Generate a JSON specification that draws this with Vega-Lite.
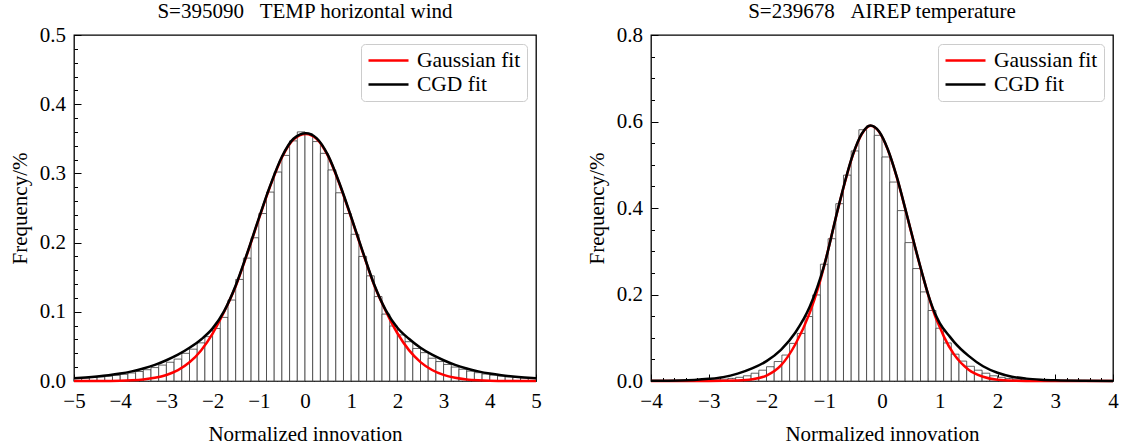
{
"$schema": "https://vega.github.io/schema/vega-lite/v6.json",
"background": "white",
"padding": {"left": 8, "top": 0, "right": 0, "bottom": 0},
"spacing": 43,
"datasets": {
"histA": [{"x0":-5,"x1":-4.8333,"f":0.0037},{"x0":-4.8333,"x1":-4.6667,"f":0.0043},{"x0":-4.6667,"x1":-4.5,"f":0.005},{"x0":-4.5,"x1":-4.3333,"f":0.0059},{"x0":-4.3333,"x1":-4.1667,"f":0.007},{"x0":-4.1667,"x1":-4,"f":0.0082},{"x0":-4,"x1":-3.8333,"f":0.0097},{"x0":-3.8333,"x1":-3.6667,"f":0.0116},{"x0":-3.6667,"x1":-3.5,"f":0.0137},{"x0":-3.5,"x1":-3.3333,"f":0.0163},{"x0":-3.3333,"x1":-3.1667,"f":0.0194},{"x0":-3.1667,"x1":-3,"f":0.023},{"x0":-3,"x1":-2.8333,"f":0.0271},{"x0":-2.8333,"x1":-2.6667,"f":0.0317},{"x0":-2.6667,"x1":-2.5,"f":0.04},{"x0":-2.5,"x1":-2.3333,"f":0.046},{"x0":-2.3333,"x1":-2.1667,"f":0.0551},{"x0":-2.1667,"x1":-2,"f":0.0641},{"x0":-2,"x1":-1.8333,"f":0.0759},{"x0":-1.8333,"x1":-1.6667,"f":0.0919},{"x0":-1.6667,"x1":-1.5,"f":0.117},{"x0":-1.5,"x1":-1.3333,"f":0.1468},{"x0":-1.3333,"x1":-1.1667,"f":0.1776},{"x0":-1.1667,"x1":-1,"f":0.207},{"x0":-1,"x1":-0.8333,"f":0.242},{"x0":-0.8333,"x1":-0.6667,"f":0.273},{"x0":-0.6667,"x1":-0.5,"f":0.302},{"x0":-0.5,"x1":-0.3333,"f":0.326},{"x0":-0.3333,"x1":-0.1667,"f":0.347},{"x0":-0.1667,"x1":0,"f":0.36},{"x0":0,"x1":0.1667,"f":0.357},{"x0":0.1667,"x1":0.3333,"f":0.346},{"x0":0.3333,"x1":0.5,"f":0.329},{"x0":0.5,"x1":0.6667,"f":0.305},{"x0":0.6667,"x1":0.8333,"f":0.272},{"x0":0.8333,"x1":1,"f":0.242},{"x0":1,"x1":1.1667,"f":0.212},{"x0":1.1667,"x1":1.3333,"f":0.18},{"x0":1.3333,"x1":1.5,"f":0.152},{"x0":1.5,"x1":1.6667,"f":0.122},{"x0":1.6667,"x1":1.8333,"f":0.0967},{"x0":1.8333,"x1":2,"f":0.0795},{"x0":2,"x1":2.1667,"f":0.0666},{"x0":2.1667,"x1":2.3333,"f":0.0568},{"x0":2.3333,"x1":2.5,"f":0.047},{"x0":2.5,"x1":2.6667,"f":0.041},{"x0":2.6667,"x1":2.8333,"f":0.0329},{"x0":2.8333,"x1":3,"f":0.0281},{"x0":3,"x1":3.1667,"f":0.0239},{"x0":3.1667,"x1":3.3333,"f":0.0201},{"x0":3.3333,"x1":3.5,"f":0.017},{"x0":3.5,"x1":3.6667,"f":0.0143},{"x0":3.6667,"x1":3.8333,"f":0.012},{"x0":3.8333,"x1":4,"f":0.0101},{"x0":4,"x1":4.1667,"f":0.0085},{"x0":4.1667,"x1":4.3333,"f":0.0072},{"x0":4.3333,"x1":4.5,"f":0.0061},{"x0":4.5,"x1":4.6667,"f":0.0052},{"x0":4.6667,"x1":4.8333,"f":0.0044},{"x0":4.8333,"x1":5,"f":0.0038}],
"cgdA": [{"x":-5,"y":0.004},{"x":-4.75,"y":0.0051},{"x":-4.5,"y":0.0065},{"x":-4.25,"y":0.0083},{"x":-4,"y":0.0107},{"x":-3.75,"y":0.0139},{"x":-3.5,"y":0.018},{"x":-3.25,"y":0.0232},{"x":-3,"y":0.03},{"x":-2.75,"y":0.038},{"x":-2.5,"y":0.048},{"x":-2.25,"y":0.06},{"x":-2,"y":0.076},{"x":-1.75,"y":0.101},{"x":-1.5,"y":0.138},{"x":-1.25,"y":0.185},{"x":-1,"y":0.235},{"x":-0.75,"y":0.283},{"x":-0.5,"y":0.324},{"x":-0.25,"y":0.35},{"x":0.02,"y":0.358},{"x":0.25,"y":0.351},{"x":0.5,"y":0.326},{"x":0.75,"y":0.285},{"x":1,"y":0.237},{"x":1.25,"y":0.187},{"x":1.5,"y":0.139},{"x":1.75,"y":0.102},{"x":2,"y":0.077},{"x":2.25,"y":0.061},{"x":2.5,"y":0.048},{"x":2.75,"y":0.038},{"x":3,"y":0.03},{"x":3.25,"y":0.0232},{"x":3.5,"y":0.018},{"x":3.75,"y":0.0139},{"x":4,"y":0.0107},{"x":4.25,"y":0.0083},{"x":4.5,"y":0.0065},{"x":4.75,"y":0.0051},{"x":5,"y":0.004}],
"gaussA": [{"x":-5,"y":0},{"x":-4.5,"y":0.0001},{"x":-4,"y":0.0005},{"x":-3.75,"y":0.0011},{"x":-3.5,"y":0.0023},{"x":-3.25,"y":0.0046},{"x":-3,"y":0.0087},{"x":-2.75,"y":0.0157},{"x":-2.5,"y":0.027},{"x":-2.25,"y":0.0442},{"x":-2,"y":0.0686},{"x":-1.75,"y":0.1},{"x":-1.5,"y":0.137},{"x":-1.25,"y":0.184},{"x":-1,"y":0.234},{"x":-0.75,"y":0.282},{"x":-0.5,"y":0.323},{"x":-0.25,"y":0.349},{"x":0.02,"y":0.357},{"x":0.25,"y":0.35},{"x":0.5,"y":0.325},{"x":0.75,"y":0.284},{"x":1,"y":0.236},{"x":1.25,"y":0.186},{"x":1.5,"y":0.138},{"x":1.75,"y":0.101},{"x":2,"y":0.069},{"x":2.25,"y":0.0446},{"x":2.5,"y":0.0273},{"x":2.75,"y":0.0159},{"x":3,"y":0.0088},{"x":3.25,"y":0.0047},{"x":3.5,"y":0.0023},{"x":3.75,"y":0.0011},{"x":4,"y":0.0005},{"x":4.5,"y":0.0001},{"x":5,"y":0}],
"histB": [{"x0":-4,"x1":-3.8667,"f":0.0003},{"x0":-3.8667,"x1":-3.7333,"f":0.0004},{"x0":-3.7333,"x1":-3.6,"f":0.0005},{"x0":-3.6,"x1":-3.4667,"f":0.0006},{"x0":-3.4667,"x1":-3.3333,"f":0.0008},{"x0":-3.3333,"x1":-3.2,"f":0.0011},{"x0":-3.2,"x1":-3.0667,"f":0.0016},{"x0":-3.0667,"x1":-2.9333,"f":0.0022},{"x0":-2.9333,"x1":-2.8,"f":0.0031},{"x0":-2.8,"x1":-2.6667,"f":0.0043},{"x0":-2.6667,"x1":-2.5333,"f":0.006},{"x0":-2.5333,"x1":-2.4,"f":0.0085},{"x0":-2.4,"x1":-2.2667,"f":0.012},{"x0":-2.2667,"x1":-2.1333,"f":0.018},{"x0":-2.1333,"x1":-2,"f":0.025},{"x0":-2,"x1":-1.8667,"f":0.033},{"x0":-1.8667,"x1":-1.7333,"f":0.045},{"x0":-1.7333,"x1":-1.6,"f":0.06},{"x0":-1.6,"x1":-1.4667,"f":0.087},{"x0":-1.4667,"x1":-1.3333,"f":0.11},{"x0":-1.3333,"x1":-1.2,"f":0.149},{"x0":-1.2,"x1":-1.0667,"f":0.199},{"x0":-1.0667,"x1":-0.9333,"f":0.27},{"x0":-0.9333,"x1":-0.8,"f":0.329},{"x0":-0.8,"x1":-0.6667,"f":0.41},{"x0":-0.6667,"x1":-0.5333,"f":0.476},{"x0":-0.5333,"x1":-0.4,"f":0.532},{"x0":-0.4,"x1":-0.2667,"f":0.581},{"x0":-0.2667,"x1":-0.1333,"f":0.59},{"x0":-0.1333,"x1":0,"f":0.568},{"x0":0,"x1":0.1333,"f":0.518},{"x0":0.1333,"x1":0.2667,"f":0.46},{"x0":0.2667,"x1":0.4,"f":0.394},{"x0":0.4,"x1":0.5333,"f":0.32},{"x0":0.5333,"x1":0.6667,"f":0.26},{"x0":0.6667,"x1":0.8,"f":0.206},{"x0":0.8,"x1":0.9333,"f":0.163},{"x0":0.9333,"x1":1.0667,"f":0.122},{"x0":1.0667,"x1":1.2,"f":0.088},{"x0":1.2,"x1":1.3333,"f":0.062},{"x0":1.3333,"x1":1.4667,"f":0.046},{"x0":1.4667,"x1":1.6,"f":0.034},{"x0":1.6,"x1":1.7333,"f":0.025},{"x0":1.7333,"x1":1.8667,"f":0.018},{"x0":1.8667,"x1":2,"f":0.012},{"x0":2,"x1":2.1333,"f":0.0085},{"x0":2.1333,"x1":2.2667,"f":0.006},{"x0":2.2667,"x1":2.4,"f":0.0042},{"x0":2.4,"x1":2.5333,"f":0.003},{"x0":2.5333,"x1":2.6667,"f":0.0021},{"x0":2.6667,"x1":2.8,"f":0.0015},{"x0":2.8,"x1":2.9333,"f":0.0011},{"x0":2.9333,"x1":3.0667,"f":0.0008},{"x0":3.0667,"x1":3.2,"f":0.0006},{"x0":3.2,"x1":3.3333,"f":0.0005},{"x0":3.3333,"x1":3.4667,"f":0.0004},{"x0":3.4667,"x1":3.6,"f":0.0003},{"x0":3.6,"x1":3.7333,"f":0.0003},{"x0":3.7333,"x1":3.8667,"f":0.0002},{"x0":3.8667,"x1":4,"f":0.0002}],
"cgdB": [{"x":-4,"y":0.0003},{"x":-3.5,"y":0.0012},{"x":-3.25,"y":0.0025},{"x":-3,"y":0.005},{"x":-2.75,"y":0.009},{"x":-2.5,"y":0.017},{"x":-2.25,"y":0.029},{"x":-2,"y":0.046},{"x":-1.75,"y":0.072},{"x":-1.5,"y":0.112},{"x":-1.25,"y":0.172},{"x":-1,"y":0.268},{"x":-0.75,"y":0.405},{"x":-0.5,"y":0.525},{"x":-0.35,"y":0.572},{"x":-0.2,"y":0.591},{"x":-0.05,"y":0.577},{"x":0.1,"y":0.536},{"x":0.254,"y":0.473},{"x":0.427,"y":0.386},{"x":0.571,"y":0.311},{"x":0.716,"y":0.239},{"x":0.8,"y":0.2},{"x":0.918,"y":0.156},{"x":1,"y":0.134},{"x":1.177,"y":0.102},{"x":1.25,"y":0.09},{"x":1.5,"y":0.058},{"x":1.75,"y":0.034},{"x":2,"y":0.019},{"x":2.25,"y":0.01},{"x":2.5,"y":0.0055},{"x":2.75,"y":0.003},{"x":3,"y":0.0016},{"x":3.5,"y":0.0005},{"x":4,"y":0.0002}],
"gaussB": [{"x":-4,"y":0},{"x":-3,"y":0.0001},{"x":-2.5,"y":0.0012},{"x":-2.25,"y":0.004},{"x":-2,"y":0.0125},{"x":-1.75,"y":0.036},{"x":-1.5,"y":0.085},{"x":-1.25,"y":0.158},{"x":-1.1,"y":0.218},{"x":-1,"y":0.267},{"x":-0.75,"y":0.404},{"x":-0.5,"y":0.524},{"x":-0.35,"y":0.571},{"x":-0.2,"y":0.59},{"x":-0.05,"y":0.576},{"x":0.1,"y":0.535},{"x":0.254,"y":0.472},{"x":0.427,"y":0.385},{"x":0.571,"y":0.31},{"x":0.716,"y":0.238},{"x":0.8,"y":0.199},{"x":0.918,"y":0.151},{"x":1,"y":0.125},{"x":1.074,"y":0.102},{"x":1.25,"y":0.061},{"x":1.5,"y":0.026},{"x":1.75,"y":0.0097},{"x":2,"y":0.003},{"x":2.5,"y":0.0002},{"x":3,"y":0},{"x":4,"y":0}]
},
"resolve": {"scale": {"color": "independent"}, "legend": {"color": "independent"}},
"hconcat": [
{
"width": 462, "height": 346,
"title": {"text": "S=395090\u00a0\u00a0\u00a0TEMP horizontal wind"},
"resolve": {"axis": {"x": "independent", "y": "independent"}},
"layer": [
{"data": {"name": "histA"}, "mark": {"type": "rect", "fill": "white", "stroke": "#3a3a3a", "strokeWidth": 0.8},
 "encoding": {
  "x": {"field": "x0", "type": "quantitative", "scale": {"domain": [-5, 5], "nice": false, "zero": false},
   "axis": {"orient": "bottom", "title": "Normalized innovation", "values": [-5,-4,-3,-2,-1,0,1,2,3,4,5], "format": "d", "tickSize": -7, "labelPadding": 16, "titlePadding": 12}},
  "x2": {"field": "x1"},
  "y": {"field": "f", "type": "quantitative", "scale": {"domain": [0, 0.5], "nice": false},
   "axis": {"orient": "left", "title": "Frequency/%", "values": [0,0.1,0.2,0.3,0.4,0.5], "format": ".1f", "tickSize": -7, "labelPadding": 15.5, "titlePadding": 9}},
  "y2": {"datum": 0}
 }},
{"data": {"name": "gaussA"}, "mark": {"type": "line", "interpolate": "monotone", "strokeWidth": 2.5},
 "encoding": {
  "x": {"field": "x", "type": "quantitative", "axis": {"orient": "bottom", "title": null, "labels": false, "tickSize": -3.5, "values": [-4.8,-4.6,-4.4,-4.2,-3.8,-3.6,-3.4,-3.2,-2.8,-2.6,-2.4,-2.2,-1.8,-1.6,-1.4,-1.2,-0.8,-0.6,-0.4,-0.2,0.2,0.4,0.6,0.8,1.2,1.4,1.6,1.8,2.2,2.4,2.6,2.8,3.2,3.4,3.6,3.8,4.2,4.4,4.6,4.8]}},
  "y": {"field": "y", "type": "quantitative", "axis": {"orient": "left", "title": null, "labels": false, "tickSize": -3.5, "values": [0.02,0.04,0.06,0.08,0.12,0.14,0.16,0.18,0.22,0.24,0.26,0.28,0.32,0.34,0.36,0.38,0.42,0.44,0.46,0.48]}},
  "color": {"datum": "Gaussian fit", "type": "nominal", "scale": {"domain": ["Gaussian fit", "CGD fit"], "range": ["#ff0000", "#000000"]}}}},
{"data": {"name": "cgdA"}, "mark": {"type": "line", "interpolate": "monotone", "strokeWidth": 2.5},
 "encoding": {"x": {"field": "x", "type": "quantitative", "axis": null}, "y": {"field": "y", "type": "quantitative", "axis": null},
  "color": {"datum": "CGD fit", "type": "nominal"}}},
{"mark": {"type": "rule", "color": "black", "strokeWidth": 2, "strokeDash": [8, 4]},
 "encoding": {"x": {"datum": 0, "axis": null}}},
{"mark": {"type": "text", "font": "Liberation Serif", "fontSize": 21, "color": "black", "align": "center", "baseline": "middle"},
 "encoding": {"x": {"datum": -4.48, "axis": null}, "y": {"datum": 0.47, "axis": null}, "text": {"value": "(a)"}}}
]
},
{
"width": 462, "height": 346,
"title": {"text": "S=239678\u00a0\u00a0\u00a0AIREP temperature"},
"resolve": {"axis": {"x": "independent", "y": "independent"}},
"layer": [
{"data": {"name": "histB"}, "mark": {"type": "rect", "fill": "white", "stroke": "#3a3a3a", "strokeWidth": 0.8},
 "encoding": {
  "x": {"field": "x0", "type": "quantitative", "scale": {"domain": [-4, 4], "nice": false, "zero": false},
   "axis": {"orient": "bottom", "title": "Normalized innovation", "values": [-4,-3,-2,-1,0,1,2,3,4], "format": "d", "tickSize": -7, "labelPadding": 16, "titlePadding": 12}},
  "x2": {"field": "x1"},
  "y": {"field": "f", "type": "quantitative", "scale": {"domain": [0, 0.8], "nice": false},
   "axis": {"orient": "left", "title": "Frequency/%", "values": [0,0.2,0.4,0.6,0.8], "format": ".1f", "tickSize": -7, "labelPadding": 15.5, "titlePadding": 9}},
  "y2": {"datum": 0}
 }},
{"data": {"name": "gaussB"}, "mark": {"type": "line", "interpolate": "monotone", "strokeWidth": 2.5},
 "encoding": {
  "x": {"field": "x", "type": "quantitative", "axis": {"orient": "bottom", "title": null, "labels": false, "tickSize": -3.5, "values": [-3.8,-3.6,-3.4,-3.2,-2.8,-2.6,-2.4,-2.2,-1.8,-1.6,-1.4,-1.2,-0.8,-0.6,-0.4,-0.2,0.2,0.4,0.6,0.8,1.2,1.4,1.6,1.8,2.2,2.4,2.6,2.8,3.2,3.4,3.6,3.8]}},
  "y": {"field": "y", "type": "quantitative", "axis": {"orient": "left", "title": null, "labels": false, "tickSize": -3.5, "values": [0.05,0.1,0.15,0.25,0.3,0.35,0.45,0.5,0.55,0.65,0.7,0.75]}},
  "color": {"datum": "Gaussian fit", "type": "nominal", "scale": {"domain": ["Gaussian fit", "CGD fit"], "range": ["#ff0000", "#000000"]}}}},
{"data": {"name": "cgdB"}, "mark": {"type": "line", "interpolate": "monotone", "strokeWidth": 2.5},
 "encoding": {"x": {"field": "x", "type": "quantitative", "axis": null}, "y": {"field": "y", "type": "quantitative", "axis": null},
  "color": {"datum": "CGD fit", "type": "nominal"}}},
{"mark": {"type": "rule", "color": "black", "strokeWidth": 2, "strokeDash": [8, 4]},
 "encoding": {"x": {"datum": 0, "axis": null}}},
{"mark": {"type": "text", "font": "Liberation Serif", "fontSize": 21, "color": "black", "align": "center", "baseline": "middle"},
 "encoding": {"x": {"datum": -3.555, "axis": null}, "y": {"datum": 0.754, "axis": null}, "text": {"value": "(b)"}}}
]
}
],
"config": {
 "font": "Liberation Serif",
 "view": {"stroke": "black", "strokeWidth": 1.3},
 "title": {"font": "Liberation Serif", "fontSize": 21, "fontWeight": "normal", "color": "black", "offset": 2, "anchor": "middle"},
 "axis": {"labelFont": "Liberation Serif", "labelFontSize": 21, "labelColor": "black", "titleFont": "Liberation Serif", "titleFontSize": 21, "titleFontWeight": "normal", "titleColor": "black", "domain": false, "grid": false, "tickColor": "black", "tickWidth": 1, "zindex": 1, "labelFlush": false, "labelOverlap": false, "labelBound": false},
 "legend": {"orient": "top-right", "offset": 9, "title": null, "symbolType": "stroke", "symbolSize": 1600, "symbolStrokeWidth": 2.5, "clipHeight": 21, "labelFont": "Liberation Serif", "labelFontSize": 21.5, "labelColor": "black", "labelOffset": 7, "rowPadding": 2, "padding": 6, "strokeColor": "#cccccc", "fillColor": "white", "cornerRadius": 4, "labelLimit": 0}
}
}
